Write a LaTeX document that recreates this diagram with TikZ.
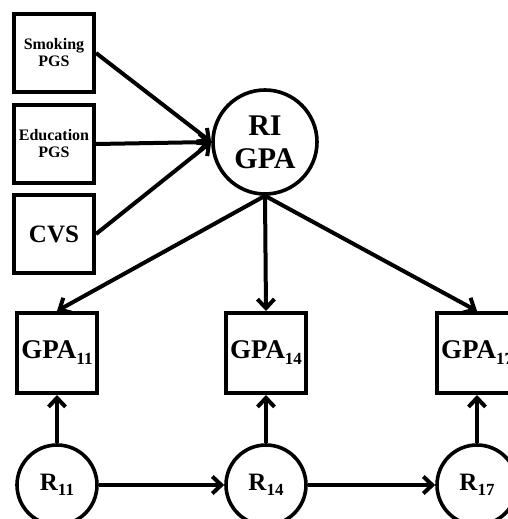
\documentclass[tikz,border=0pt]{standalone}
\usepackage{fontspec}
\setmainfont{Liberation Serif}
\usetikzlibrary{arrows.meta}
\tikzstyle{obs}=[rectangle, draw, line width=4pt, inner sep=0pt, minimum width=80pt, minimum height=78pt, align=center, font=\bfseries]
\tikzstyle{lat}=[circle, draw, line width=3.6pt, inner sep=0pt, align=center, font=\bfseries]
\newcommand{\obs}{\node[obs]}
\newcommand{\lat}{\node[lat]}
\newcommand{\lowidx}[1]{\raisebox{-0.22em}{\fontsize{17}{17}\selectfont #1}}

\begin{document}
\begin{tikzpicture}[x=1pt, y=-1pt,
            every edge/.style={
                draw, line width=4pt,
                -{Straight Barb[length=9pt,width=17pt,line width=4pt]}
                }
        ]
            \useasboundingbox (0,0) rectangle (508,519);
            \clip (0,0) rectangle (508,519);

            \obs (smk) at (54,53) [font=\bfseries\fontsize{16}{17}\selectfont]{Smoking\\PGS};
            \obs (edu) at (54,144) [font=\bfseries\fontsize{16}{17}\selectfont]{Education\\PGS};
            \obs (cvs) at (54,234) [font=\bfseries\fontsize{25}{26}\selectfont]{CVS};

            \lat (ri) at (265,142) [minimum size=104pt, font=\bfseries\fontsize{30}{33}\selectfont]{RI\\GPA};

            \obs (g11) at (57,353) [minimum height=80pt, font=\bfseries\fontsize{27}{28}\selectfont]{GPA\lowidx{11}};
            \obs (g14) at (266,353) [minimum height=80pt, font=\bfseries\fontsize{27}{28}\selectfont]{GPA\lowidx{14}};
            \obs (g17) at (477,353) [minimum height=80pt, font=\bfseries\fontsize{27}{28}\selectfont]{GPA\lowidx{17}};

            \lat (r11) at (57,485) [minimum size=80pt, font=\bfseries\fontsize{25}{26}\selectfont]{R\lowidx{11}};
            \lat (r14) at (266,485) [minimum size=80pt, font=\bfseries\fontsize{25}{26}\selectfont]{R\lowidx{14}};
            \lat (r17) at (477,485) [minimum size=80pt, font=\bfseries\fontsize{25}{26}\selectfont]{R\lowidx{17}};

            \path
                (smk.east) edge (ri.west)
                (edu.east) edge (ri.west)
                (cvs.east) edge (ri.west)

                (ri.south) edge (g11.north)
                (ri.south) edge (g14.north)
                (ri.south) edge (g17.north)

                (r11) edge (g11)
                (r14) edge (g14)
                (r17) edge (g17)

                (r11) edge (r14)
                (r14) edge (r17)
            ;
        \end{tikzpicture}
\end{document}
